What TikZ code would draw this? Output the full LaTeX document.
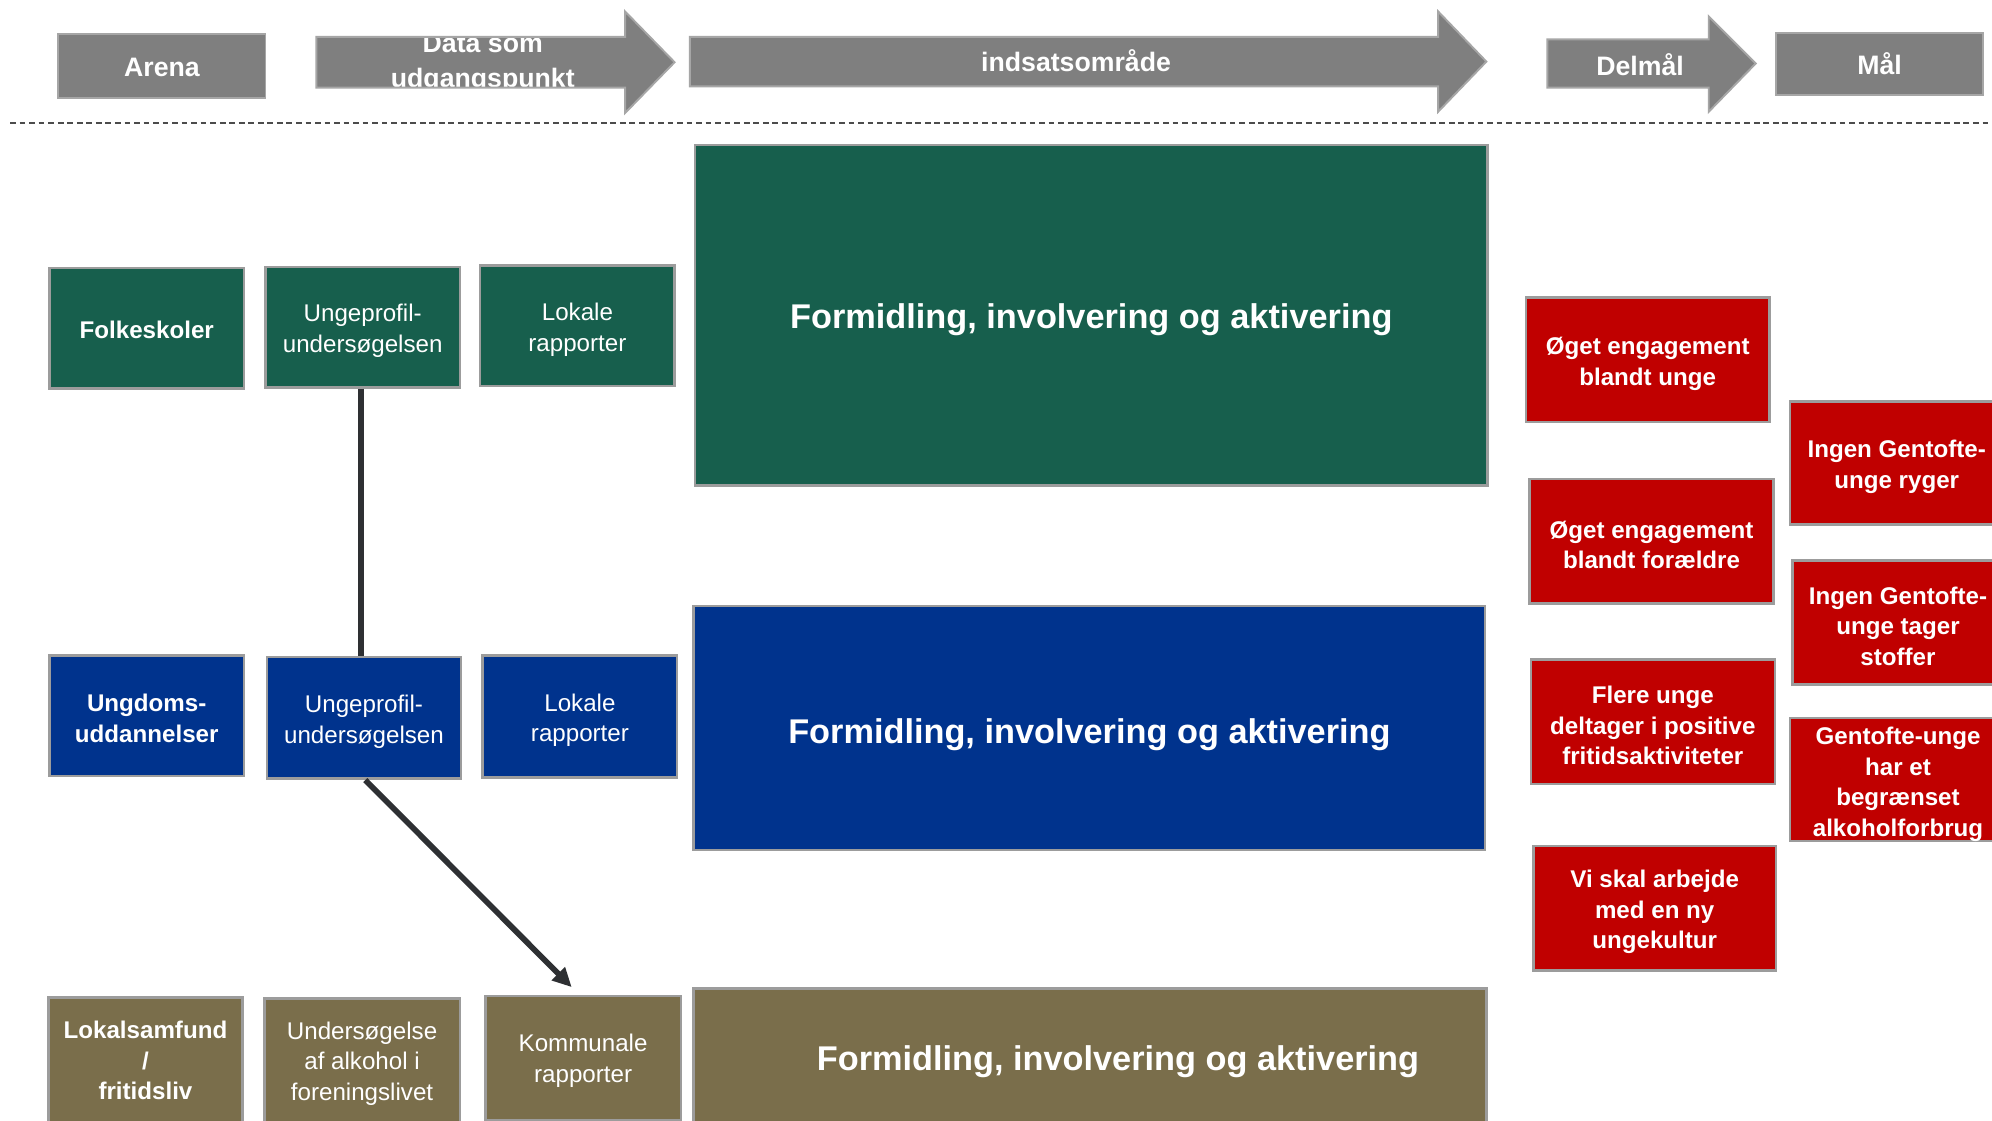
\documentclass[tikz,border=0pt]{standalone}
\usepackage{fontspec}
\setmainfont{Liberation Sans}
\usetikzlibrary{arrows.meta}
\definecolor{hdr}{HTML}{7F7F7F}
\definecolor{hdrline}{HTML}{A6A6A6}
\definecolor{grn}{HTML}{175F4D}
\definecolor{blu}{HTML}{00338D}
\definecolor{olv}{HTML}{7A6E4B}
\definecolor{rd}{HTML}{C00000}
\definecolor{edge}{HTML}{9C9C9C}
\definecolor{connc}{HTML}{2E3033}
\begin{document}
\begin{tikzpicture}[x=1pt,y=-1pt,
  box/.style={draw=edge, line width=2pt, inner sep=0pt},
  sz/.style 2 args={minimum width=#1pt, minimum height=#2pt},
  txtbase/.style={text=white, align=center, inner sep=0pt},
  tr/.style={txtbase, font=\fontsize{19}{24}\selectfont},
  tb/.style={txtbase, font=\fontsize{19}{24}\selectfont\bfseries},
  tbig/.style={txtbase, font=\fontsize{27}{32}\selectfont\bfseries},
  hdrfill/.style={fill=hdr},
  hdredge/.style={draw=hdrline, line width=1.5pt},
  hdrtext/.style={text=white, align=center, inner sep=0pt, font=\fontsize{21}{27}\selectfont\bfseries},
  connline/.style={draw=connc, line width=4.5pt},
]
\useasboundingbox (0,0) rectangle (1568,882);
\fill[white] (0,0) rectangle (1568,882);

% ---------- header ----------
\node[hdrfill, hdredge, sz={163}{50}, label={[hdrtext, yshift=-1pt]center:Arena}] (arena) at (127.5,52) {};
\path[hdrfill] (249,29) -- (492,29) -- (492,9) -- (531,49) -- (492,89) -- (492,69) -- (249,69) -- cycle;
\node[hdrtext] (data) at (380,50) {Data som\\udgangspunkt};
\path[hdredge] (249,29) -- (492,29) -- (492,9) -- (531,49) -- (492,89) -- (492,69) -- (249,69) -- cycle;
\path[hdrfill, hdredge] (543,29) -- (1132,29) -- (1132,9) -- (1170,48.5) -- (1132,88) -- (1132,68) -- (543,68) -- cycle;
\node[hdrtext] (indsats) at (847,48) {indsatsområde};
\path[hdrfill, hdredge] (1218,31) -- (1345,31) -- (1345,13) -- (1382,50) -- (1345,88) -- (1345,69) -- (1218,69) -- cycle;
\node[hdrtext] (delmaal) at (1291,51) {Delmål};
\node[hdrfill, hdredge, sz={163}{49}, label={[hdrtext]center:Mål}] (maal) at (1479.5,50.5) {};

\draw[draw=black!70, line width=1.2pt, dash pattern=on 4.5pt off 3pt] (8,97) -- (1568,97);

% ---------- green row ----------
\node[box, fill=grn, sz={153}{95}, label={[tb, yshift=-1pt]center:Folkeskoler}] (fs) at (115.5,258.5) {};
\node[box, fill=grn, sz={153}{95}, label={[tr, yshift=-3pt]center:{Ungeprofil-\\undersøgelsen}}] (ug1) at (285.5,257.5) {};
\node[box, fill=grn, sz={153}{95}, label={[tr, yshift=-3pt]center:{Lokale\\rapporter}}] (lok1) at (454.5,256.5) {};
\node[box, fill=grn, sz={624}{268}, label={[tbig, yshift=-4pt]center:{Formidling, involvering og aktivering}}] (big1) at (859,248) {};

% ---------- blue row ----------
\node[box, fill=blu, sz={153}{95}, label={[tb, yshift=-2pt]center:{Ungdoms-\\uddannelser}}] (uu) at (115.5,563.5) {};
\node[box, fill=blu, sz={153}{96}, label={[tr, yshift=-3pt]center:{Ungeprofil-\\undersøgelsen}}] (ug2) at (286.5,565) {};
\node[box, fill=blu, sz={153}{96}, label={[tr, yshift=-3pt]center:{Lokale\\rapporter}}] (lok2) at (456.5,564) {};
\node[box, fill=blu, sz={623}{192}, label={[tbig, yshift=-5pt]center:{Formidling, involvering og aktivering}}] (big2) at (857.5,573) {};

% ---------- olive row ----------
\node[box, fill=olv, sz={153}{98}, label={[tb, yshift=-1pt]center:{Lokalsamfund\\/\\fritidsliv}}] (ls) at (114.5,834) {};
\node[box, fill=olv, sz={154}{98}, label={[tr, yshift=-2pt]center:{Undersøgelse\\af alkohol i\\foreningslivet}}] (us) at (285,835) {};
\node[box, fill=olv, sz={154}{98}, label={[tr, yshift=-2pt]center:{Kommunale\\rapporter}}] (km) at (459,833) {};
\node[box, fill=olv, sz={624}{110}, label={[tbig, yshift=-3pt, xshift=22pt]center:{Formidling, involvering og aktivering}}] (big3) at (858,833) {};

% ---------- connectors ----------
\draw[connline] ([xshift=-1.5pt]ug1.south) -- ([xshift=-1.5pt]ug1.south |- ug2.north);
\draw[connline, -{Triangle[length=15pt,width=14pt]}] ([xshift=1pt]ug2.south) -- ([xshift=-9pt,yshift=6pt]km.north);

% ---------- delmål (red) ----------
\node[box, fill=rd, sz={192}{98}, label={[tb, yshift=-3.5pt]center:{Øget engagement\\blandt unge}}] (r1) at (1297,283) {};
\node[box, fill=rd, sz={192}{98}, label={[tb, yshift=-3pt]center:{Øget engagement\\blandt forældre}}] (r2) at (1300,426) {};
\node[box, fill=rd, sz={192}{98}, label={[tb, yshift=-3pt]center:{Flere unge\\deltager i positive\\fritidsaktiviteter}}] (r3) at (1301,568) {};
\node[box, fill=rd, sz={191}{98}, label={[tb, yshift=-3pt]center:{Vi skal arbejde\\med en ny\\ungekultur}}] (r4) at (1302.5,715) {};

% ---------- mål (red) ----------
\node[box, fill=rd, sz={168}{97}, label={[tb, yshift=-3pt]center:{Ingen Gentofte-\\unge ryger}}] (m1) at (1493,364.5) {};
\node[box, fill=rd, sz={166}{98}, label={[tb, yshift=-3pt]center:{Ingen Gentofte-\\unge tager\\stoffer}}] (m2) at (1494,490) {};
\node[box, fill=rd, sz={170}{97}, label={[tb, yshift=-4pt]center:{Gentofte-unge\\har et\\begrænset\\alkoholforbrug}}] (m3) at (1494,613.5) {};
\end{tikzpicture}
\end{document}
